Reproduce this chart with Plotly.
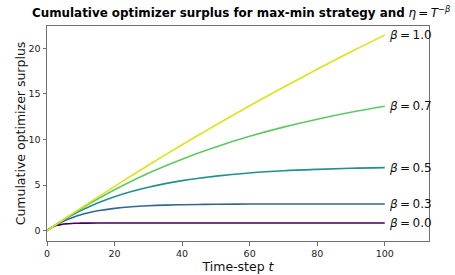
import plotly.graph_objects as go

t = [0, 1, 2, 3, 4, 5, 6, 8, 10, 12, 15, 20, 25, 30, 35, 40, 45, 50, 60, 70, 80, 90, 100]

betas = ["0.0", "0.3", "0.5", "0.7", "1.0"]

surplus_b00 = [0, 0.28, 0.46, 0.59, 0.67, 0.73, 0.76, 0.81, 0.825, 0.833, 0.838, 0.84, 0.84, 0.84, 0.84, 0.84, 0.84, 0.84, 0.84, 0.84, 0.84, 0.84, 0.84]
surplus_b03 = [0, 0.255, 0.49, 0.70, 0.89, 1.07, 1.23, 1.51, 1.75, 1.95, 2.18, 2.45, 2.63, 2.74, 2.81, 2.85, 2.88, 2.90, 2.92, 2.925, 2.93, 2.93, 2.93]
surplus_b05 = [0, 0.258, 0.51, 0.75, 0.98, 1.20, 1.42, 1.82, 2.20, 2.55, 3.03, 3.72, 4.29, 4.76, 5.16, 5.49, 5.76, 5.99, 6.33, 6.57, 6.73, 6.85, 6.92]
surplus_b07 = [0, 0.259, 0.51, 0.76, 1.00, 1.25, 1.48, 1.95, 2.40, 2.85, 3.48, 4.49, 5.42, 6.29, 7.09, 7.84, 8.54, 9.19, 10.35, 11.36, 12.23, 12.99, 13.64]
surplus_b10 = [0, 0.25, 0.50, 0.75, 1.00, 1.245, 1.49, 1.98, 2.47, 2.95, 3.68, 4.86, 6.03, 7.18, 8.31, 9.42, 10.52, 11.59, 13.70, 15.74, 17.71, 19.62, 21.45]

series = [surplus_b00, surplus_b03, surplus_b05, surplus_b07, surplus_b10]
colors = ["#440154", "#31688e", "#21918c", "#5ec962", "#dde318"]

x_ticks = [0, 20, 40, 60, 80, 100]
y_ticks = [0, 5, 10, 15, 20]

fig = go.Figure()
for b, ys, c in zip(betas, series, colors):
    fig.add_trace(go.Scatter(x=t, y=ys, mode="lines", line=dict(color=c, width=1.6, shape="spline"),
                             showlegend=False, hoverinfo="skip"))
    fig.add_annotation(x=t[-1], y=ys[-1], text="<i>β</i>\u2009=\u2009" + b, showarrow=False,
                       xanchor="left", yanchor="middle", xshift=2,
                       font=dict(family="DejaVu Sans", size=12, color="#111"))

fig.update_layout(
    width=455, height=275,
    margin=dict(l=47, r=26, t=26, b=34),
    paper_bgcolor="white", plot_bgcolor="white",
    font=dict(family="DejaVu Sans", color="#111"),
    title=dict(text="<b>Cumulative optimizer surplus for max-min strategy and</b> <i>η</i>\u2009=\u2009<i>T</i><sup>−<i>β</i></sup>",
               x=0.53, xanchor="center", y=0.955, yanchor="middle",
               font=dict(family="DejaVu Sans", size=11.9, color="#000")),
)
fig.update_xaxes(range=[0, 113.1], tickvals=x_ticks, showgrid=False, zeroline=False, automargin=False,
                 showline=True, mirror=True, linecolor="#707070", linewidth=1,
                 ticks="outside", ticklen=3.5, tickcolor="#707070",
                 tickfont=dict(size=9.5, color="#222"),
                 title=dict(text="Time-step <i>t</i>", font=dict(size=12.5, color="#111"), standoff=1))
fig.update_yaxes(range=[-1.13, 22.45], tickvals=y_ticks, showgrid=False, zeroline=False, automargin=False,
                 showline=True, mirror=True, linecolor="#707070", linewidth=1,
                 ticks="outside", ticklen=3.5, tickcolor="#707070",
                 tickfont=dict(size=9.5, color="#222"),
                 title=dict(text="Cumulative optimizer surplus", font=dict(size=12.5, color="#111"), standoff=0))

fig.write_html("out.html", config={"displayModeBar": False},
               post_script="document.body.style.margin='0';")
